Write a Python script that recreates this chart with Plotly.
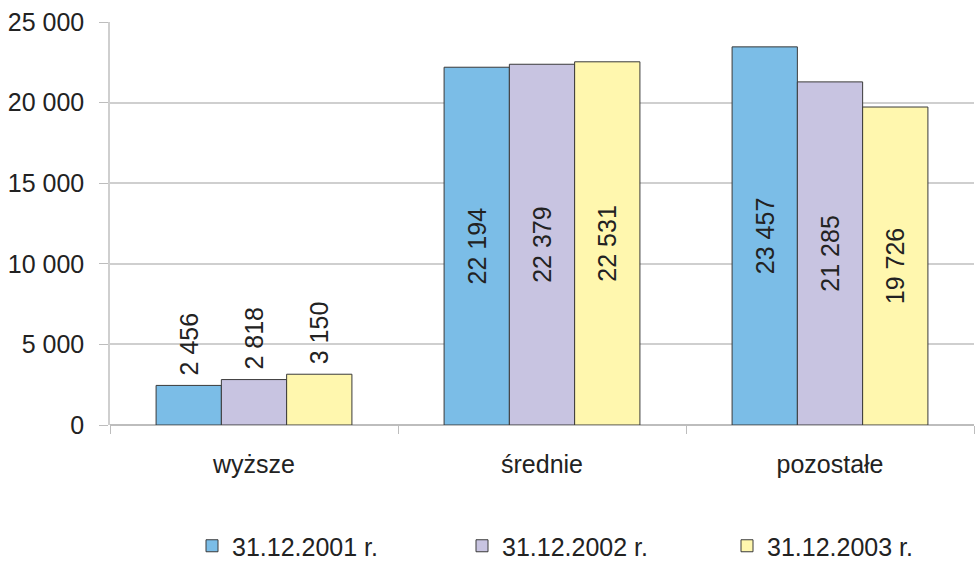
import plotly.graph_objects as go

categories = ["wyższe", "średnie", "pozostałe"]
series_names = ["31.12.2001 r.", "31.12.2002 r.", "31.12.2003 r."]
values_2001 = [2456, 22194, 23457]
values_2002 = [2818, 22379, 21285]
values_2003 = [3150, 22531, 19726]
colors = ["#7BBDE7", "#C8C4E1", "#FFF7AE"]
y_ticks = [0, 5000, 10000, 15000, 20000, 25000]

FONT = "Liberation Sans, Arial, sans-serif"
FS = 25


def fmt(v):
    return f"{v:,}".replace(",", " ")


fig = go.Figure()
legend_ids = ["legend", "legend2", "legend3"]
for name, vals, col, lg in zip(series_names, [values_2001, values_2002, values_2003], colors, legend_ids):
    outside = [v < 8000 for v in vals]
    fig.add_trace(go.Bar(
        x=categories, y=vals, name=name, legend=lg,
        marker=dict(color=col, line=dict(color="#3a3a3a", width=1)),
        text=[("\u00a0" + fmt(v)) if o else fmt(v) for v, o in zip(vals, outside)],
        textposition=["outside" if o else "inside" for o in outside],
        insidetextanchor="middle",
        textangle=-90,
        constraintext="none",
        textfont=dict(family=FONT, size=FS, color="#222222"),
        cliponaxis=False,
    ))

leg_common = dict(orientation="h", yref="container", yanchor="middle", y=19 / 565,
                  xanchor="left",
                  font=dict(family=FONT, size=FS, color="#222222"),
                  itemclick=False, itemwidth=30, bgcolor="rgba(0,0,0,0)")
leg_x_px = [192, 462, 727]

fig.update_layout(
    width=975, height=565,
    margin=dict(l=110, r=1, t=22, b=140, autoexpand=False),
    paper_bgcolor="white", plot_bgcolor="white",
    barmode="group", bargap=0.32, bargroupgap=0,
    font=dict(family=FONT, size=FS, color="#222222"),
    showlegend=True,
    legend=dict(x=(leg_x_px[0] - 110) / 864, **leg_common),
    legend2=dict(x=(leg_x_px[1] - 110) / 864, **leg_common),
    legend3=dict(x=(leg_x_px[2] - 110) / 864, **leg_common),
    xaxis=dict(showline=False, ticks="outside", tickson="boundaries", ticklen=8,
               tickcolor="#bdbdbd", showgrid=False, automargin=False,
               ticklabelstandoff=22,
               tickfont=dict(family=FONT, size=FS, color="#222222")),
    yaxis=dict(range=[0, 25000], tickvals=y_ticks, ticktext=[fmt(v) for v in y_ticks],
               showgrid=True, gridcolor="#cfcfcf", gridwidth=1.5,
               ticks="outside", ticklen=9, tickcolor="#bdbdbd", automargin=False,
               ticklabelstandoff=10,
               showline=True, linecolor="#cfcfcf", linewidth=1.5,
               zeroline=True, zerolinecolor="#bdbdbd", zerolinewidth=1.5,
               tickfont=dict(family=FONT, size=FS, color="#222222")),
)

fig.write_html("out.html", config={"responsive": False, "displayModeBar": False},
               post_script="document.body.style.margin='0';document.body.style.padding='0';")
